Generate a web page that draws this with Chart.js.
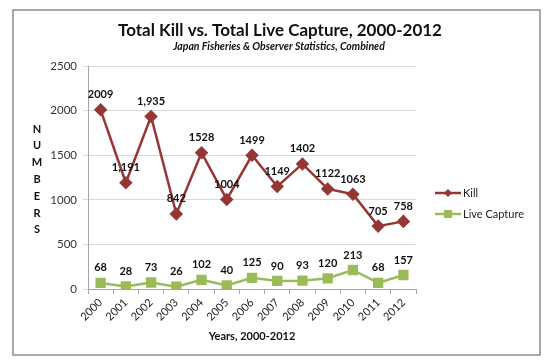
<!DOCTYPE html>
<html>
<head>
<meta charset="utf-8">
<script src="https://cdn.jsdelivr.net/npm/chart.js@4"></script>
<style>
  html, body { margin: 0; padding: 0; background: #fff; }
  #wrap { width: 560px; height: 364px; position: relative; }
</style>
</head>
<body>
<div id="wrap"><canvas id="killChart" width="560" height="364"></canvas></div>
<script>
const years = ["2000", "2001", "2002", "2003", "2004", "2005", "2006", "2007", "2008", "2009", "2010", "2011", "2012"];
const killValues = [2009, 1191, 1935, 842, 1528, 1004, 1499, 1149, 1402, 1122, 1063, 705, 758];
const killLabels = ["2009", "1,191", "1,935", "842", "1528", "1004", "1499", "1149", "1402", "1122", "1063", "705", "758"];
const liveValues = [68, 28, 73, 26, 102, 40, 125, 90, 93, 120, 213, 68, 157];
const liveLabels = ["68", "28", "73", "26", "102", "40", "125", "90", "93", "120", "213", "68", "157"];
const yTicks = [0, 500, 1000, 1500, 2000, 2500];

const FONT = "Lato, 'Open Sans', sans-serif";
const killColor = "#953735";
const liveColor = "#9BBB59";

// frame, titles, stacked axis title, legend and point labels
const decor = {
    id: "decor",
    beforeDraw(chart) {
        const c = chart.ctx;
        c.save();
        c.fillStyle = "#fff";
        c.fillRect(0, 0, chart.width, chart.height);
        c.strokeStyle = "#8c8c8c";
        c.lineWidth = 1.5;
        c.strokeRect(13, 10, 527, 345);
        c.restore();
    },
    afterDraw(chart) {
        const c = chart.ctx;
        c.save();
        c.fillStyle = "#111";
        c.textAlign = "center";
        c.textBaseline = "middle";
        c.font = "bold 17px " + FONT;
        c.fillText("Total Kill vs. Total Live Capture, 2000-2012", 280, 31);
        c.font = "italic bold 10.5px " + FONT;
        c.fillText("Japan Fisheries & Observer Statistics, Combined", 279, 47);

        c.font = "bold 11px " + FONT;
        "NUMBERS".split("").forEach((ch, i) => {
            c.fillText(ch, 37, 129 + i * 16.8);
        });

        // point labels
        const sets = [killLabels, liveLabels];
        sets.forEach((labels, d) => {
            const meta = chart.getDatasetMeta(d);
            meta.data.forEach((pt, i) => {
                c.fillText(labels[i], pt.x, pt.y - 15);
            });
        });

        // legend
        const items = [
            { text: "Kill", color: killColor, shape: "diamond", y: 193 },
            { text: "Live Capture", color: liveColor, shape: "square", y: 214 }
        ];
        items.forEach(it => {
            c.strokeStyle = it.color;
            c.lineWidth = 2.5;
            c.beginPath();
            c.moveTo(435, it.y);
            c.lineTo(461, it.y);
            c.stroke();
            c.fillStyle = it.color;
            c.beginPath();
            if (it.shape === "diamond") {
                c.moveTo(448, it.y - 4);
                c.lineTo(452, it.y);
                c.lineTo(448, it.y + 4);
                c.lineTo(444, it.y);
                c.closePath();
                c.fill();
            } else {
                c.fillRect(444, it.y - 4, 8, 8);
            }
            c.fillStyle = "#222";
            c.textAlign = "left";
            c.font = "11px " + FONT;
            c.fillText(it.text, 463, it.y);
        });
        c.restore();
    }
};

new Chart(document.getElementById("killChart").getContext("2d"), {
    type: "line",
    data: {
        labels: years,
        datasets: [
            {
                label: "Kill",
                data: killValues,
                borderColor: killColor,
                backgroundColor: killColor,
                borderWidth: 2.5,
                pointStyle: "rectRot",
                pointRadius: 5,
                pointHoverRadius: 5,
                tension: 0,
                fill: false
            },
            {
                label: "Live Capture",
                data: liveValues,
                borderColor: liveColor,
                backgroundColor: liveColor,
                borderWidth: 2.5,
                pointStyle: "rect",
                pointRadius: 5.5,
                pointHoverRadius: 5.5,
                tension: 0,
                fill: false
            }
        ]
    },
    options: {
        responsive: false,
        animation: false,
        devicePixelRatio: 1,
        layout: { padding: { left: 0, top: 66, right: 144, bottom: 0 } },
        plugins: {
            legend: { display: false },
            title: { display: false },
            tooltip: { enabled: false }
        },
        scales: {
            x: {
                offset: true,
                afterFit: s => { s.height = 75; },
                grid: {
                    offset: true,
                    drawOnChartArea: false,
                    color: "#a6a6a6",
                    tickLength: 5
                },
                border: { color: "#a6a6a6" },
                ticks: {
                    minRotation: 45,
                    maxRotation: 45,
                    autoSkip: false,
                    color: "#222",
                    padding: 2,
                    font: { family: FONT, size: 11 }
                },
                title: {
                    display: true,
                    text: "Years, 2000-2012",
                    color: "#111",
                    padding: { top: 0, bottom: 21 },
                    font: { family: FONT, size: 11, weight: "bold" }
                }
            },
            y: {
                min: 0,
                max: 2500,
                afterFit: s => { s.width = 88; },
                afterBuildTicks: s => { s.ticks = yTicks.map(v => ({ value: v })); },
                grid: { color: "#d9d9d9", tickLength: 5 },
                border: { color: "#a6a6a6" },
                ticks: {
                    color: "#333",
                    padding: 6,
                    font: { family: FONT, size: 11.5 },
                    callback: v => String(v)
                }
            }
        }
    },
    plugins: [decor]
});
</script>
</body>
</html>
